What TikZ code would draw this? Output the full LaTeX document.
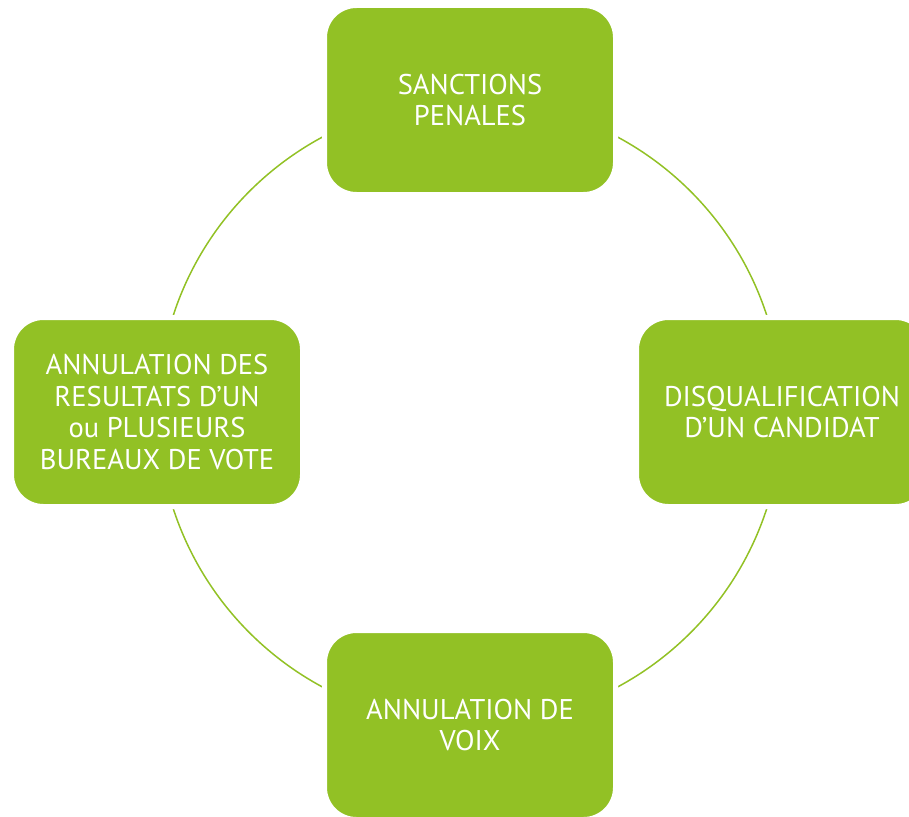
\documentclass[tikz,border=0pt]{standalone}
\usepackage{fontspec}
\setmainfont{PT Sans}
\definecolor{leaf}{HTML}{92C125}
\begin{document}
\begin{tikzpicture}[x=1pt,y=-1pt,
  box/.style={fill=leaf,draw=white,line width=5pt,rounded corners=32pt,
    minimum width=291pt,minimum height=189pt,text=white,align=center,
    font=\fontsize{28.5}{31.5}\selectfont,inner sep=0pt},
  ring/.style={draw=leaf,line width=1.5pt}]
\useasboundingbox (0,0) rectangle (909,816);
\coordinate (c) at (470,412);
\draw[ring] (c) circle (312);
\node[box] (top) at (470,100) {SANCTIONS\\PENALES};
\node[box] (right) at (782,412) {DISQUALIFICATION\\D’UN CANDIDAT};
\node[box] (left) at (157,412) {ANNULATION DES\\RESULTATS D’UN\\ou PLUSIEURS\\BUREAUX DE VOTE};
\node[box] (bottom) at (470,725) {ANNULATION DE\\VOIX};
\end{tikzpicture}
\end{document}
